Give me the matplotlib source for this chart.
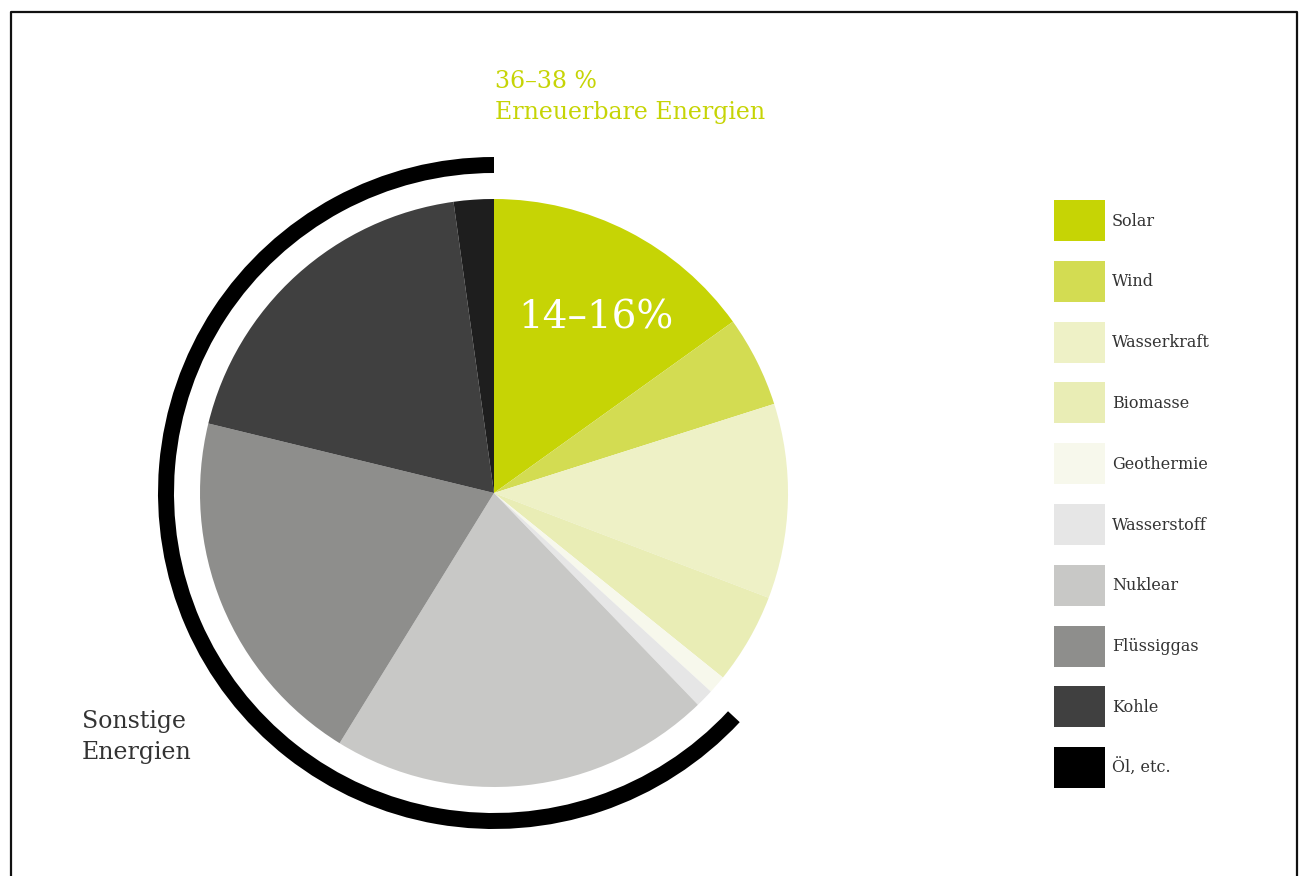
import matplotlib
matplotlib.use('Agg')
import matplotlib.pyplot as plt
from matplotlib.patches import Wedge
from matplotlib.lines import Line2D

# shares in percent, clockwise from 12 o'clock
labels = ['Solar', 'Wind', 'Wasserkraft', 'Biomasse', 'Geothermie',
          'Wasserstoff', 'Nuklear', 'Flüssiggas', 'Kohle', 'Öl, etc.']
shares = [15.1, 5.0, 10.7, 5.0, 1.0, 1.0, 21.0, 20.0, 19.0, 2.2]
slice_colors = ['#c6d405', '#d3dc52', '#eef1c6', '#e9edb5', '#f7f8ec',
                '#e6e6e6', '#c8c8c6', '#8e8e8c', '#404040', '#1e1e1e']
legend_colors = slice_colors[:-1] + ['#000000']

renew_share = '36–38 %'
renew_label = 'Erneuerbare Energien'
solar_share = '14–16%'
other_label = 'Sonstige\nEnergien'

W, H = 1302, 876
LIME = '#c6d405'
TXT = '#333333'
FONT = 'DejaVu Serif'


def py(y):
    # pixel row (top-down) -> data y
    return H - y


fig = plt.figure(figsize=(W / 100, H / 100), dpi=100)
ax = fig.add_axes([0, 0, 1, 1])

cx, cy, r = 494, py(493), 294
ax.pie(shares, colors=slice_colors, startangle=90, counterclock=False,
       radius=r, center=(cx, cy), wedgeprops={'linewidth': 0})

# black arc around the non-renewable part
ax.add_patch(Wedge((cx, cy), 336, 90, 317, width=16, color='black', lw=0))

ax.set_xlim(0, W)
ax.set_ylim(0, H)
ax.set_aspect('equal')
ax.axis('off')

# frame (open at the bottom)
ax.add_line(Line2D([11, 11, 1297, 1297], [0, py(12), py(12), 0],
                   color='#111111', lw=1.6))

ax.text(495, py(81), renew_share, color=LIME, fontsize=17, family=FONT,
        va='center', ha='left')
ax.text(495, py(113), renew_label, color=LIME, fontsize=17, family=FONT,
        va='center', ha='left')
ax.text(596, py(318), solar_share, color='white', fontsize=28, family=FONT,
        va='center', ha='center')
ax.text(82, py(737), other_label, color=TXT, fontsize=17, family=FONT,
        va='center', ha='left', linespacing=1.45)

# legend
top = 200
step = 60.8
for i, (lab, col) in enumerate(zip(labels, legend_colors)):
    y0 = top + i * step
    ax.add_patch(plt.Rectangle((1054, py(y0 + 41)), 51, 41, color=col, lw=0))
    ax.text(1112, py(y0 + 21), lab, color=TXT, fontsize=11.5, family=FONT,
            va='center', ha='left')

fig.savefig('out.png', dpi=100)
